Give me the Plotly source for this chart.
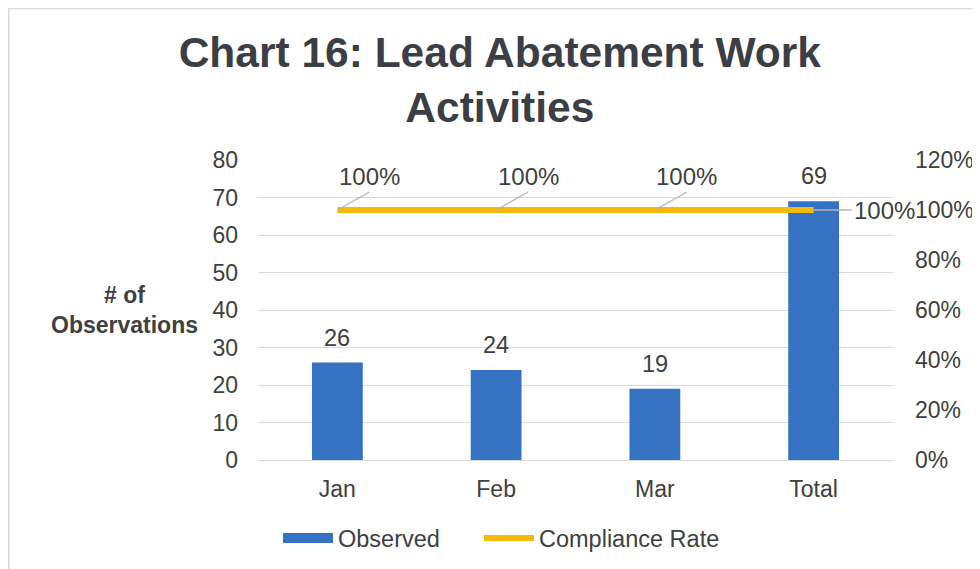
import plotly.graph_objects as go

categories = ["Jan", "Feb", "Mar", "Total"]
observed = [26, 24, 19, 69]
compliance = [1.0, 1.0, 1.0, 1.0]
compliance_labels = ["100%", "100%", "100%", "100%"]
left_ticks = [0, 10, 20, 30, 40, 50, 60, 70, 80]
right_ticks = [0, 0.2, 0.4, 0.6, 0.8, 1.0, 1.2]
right_tick_text = ["0%", "20%", "40%", "60%", "80%", "100%", "120%"]

FONT = "Liberation Sans, Arial, sans-serif"
TXT = "#404040"
TITLE_C = "#3b3e45"
BLUE = "#3572c1"
GOLD = "#f5b90a"

fig = go.Figure()
fig.add_trace(go.Bar(
    x=categories, y=observed, name="Observed", showlegend=False,
    marker=dict(color=BLUE, line=dict(width=0)),
    width=0.32,
))
# legend-only entry for the bars (wide swatch like the reference)
fig.add_trace(go.Scatter(
    x=[None], y=[None], name="Observed", mode="lines",
    line=dict(color=BLUE, width=12), legend="legend",
))
fig.add_trace(go.Scatter(
    x=categories, y=compliance, name="Compliance Rate", yaxis="y2",
    mode="lines", line=dict(color=GOLD, width=6), legend="legend2",
))

# bar value labels
for c, v in zip(categories, observed):
    fig.add_annotation(
        x=c, y=v, xref="x", yref="y", text=str(v), showarrow=False,
        yanchor="bottom", yshift=10,
        font=dict(size=23.5, color=TXT, family=FONT),
    )

# compliance labels with leader lines
offsets = [(32, -18), (32, -18), (32, -18), (38, 0)]
for c, v, lab, (ax, ay) in zip(categories, compliance, compliance_labels, offsets):
    fig.add_annotation(
        x=c, y=v, xref="x", yref="y2", text=lab,
        showarrow=True, arrowhead=0, arrowwidth=1.3, arrowcolor="#b4b4b4",
        ax=ax, ay=ay, standoff=0,
        xanchor="left" if ay == 0 else "center",
        yanchor="middle" if ay == 0 else "bottom",
        font=dict(size=24, color=TXT, family=FONT),
    )

fig.add_annotation(
    x=-0.211, y=0.5, xref="paper", yref="paper", xanchor="center", yanchor="middle",
    text="<b># of<br>Observations</b>", showarrow=False,
    font=dict(size=23, color=TXT, family=FONT), align="center",
)

fig.add_shape(type="rect", xref="paper", yref="paper",
              x0=-0.3925, x1=1.3, y0=-0.5, y1=1.505,
              line=dict(color="#d9d9d9", width=1.5), layer="below")

legend_common = dict(orientation="h", xanchor="left", y=-0.187, yanchor="top",
                     font=dict(size=23.5, color=TXT, family=FONT), itemwidth=50,
                     bgcolor="rgba(0,0,0,0)")

fig.update_layout(
    width=972, height=561,
    margin=dict(l=250, r=87, t=152, b=109, autoexpand=False),
    paper_bgcolor="white", plot_bgcolor="white",
    font=dict(family=FONT, color=TXT),
    title=dict(text="<b>Chart 16: Lead Abatement Work<br>Activities</b>",
               x=0.506, xanchor="center", yref="container",
               y=1 - 59 / 561, yanchor="top",
               font=dict(size=42.5, color=TITLE_C, family=FONT)),
    xaxis=dict(showgrid=False, tickfont=dict(size=23, color=TXT),
               range=[-0.5, len(categories) - 0.5],
               showline=True, linecolor="#d9d9d9", ticks="", automargin=False,
               ticklabelstandoff=8),
    yaxis=dict(range=[0, 80], tickvals=left_ticks, gridcolor="#d9d9d9",
               tickfont=dict(size=23, color=TXT), zeroline=False,
               ticklabelstandoff=19, automargin=False),
    yaxis2=dict(range=[0, 1.2], overlaying="y", side="right",
                tickvals=right_ticks, ticktext=right_tick_text, showgrid=False,
                tickfont=dict(size=23, color=TXT), zeroline=False,
                ticklabelstandoff=21, automargin=False),
    legend=dict(x=0.0315, **legend_common),
    legend2=dict(x=0.348, **legend_common),
    showlegend=True,
    bargap=0.68,
)

fig.write_html("out.html")
